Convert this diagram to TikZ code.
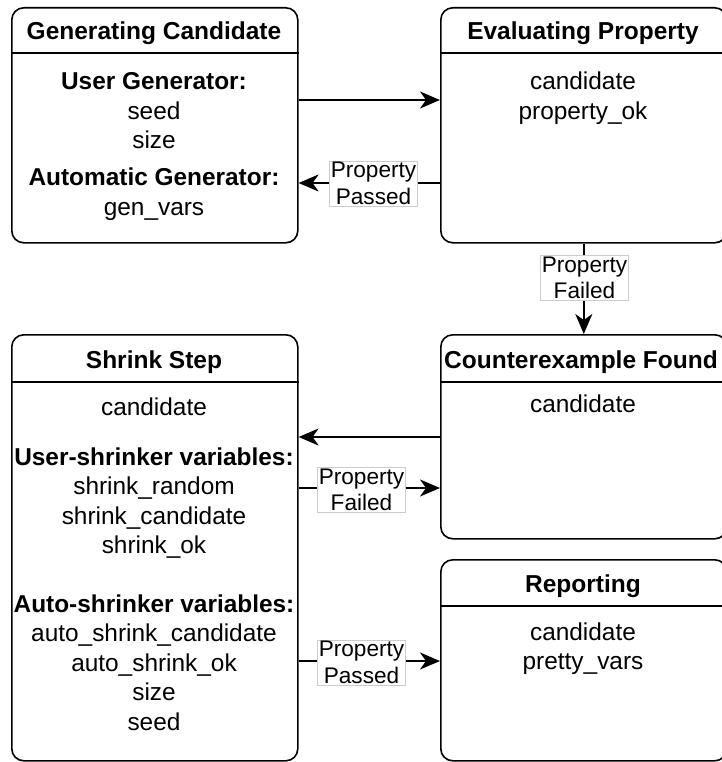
\documentclass[tikz,border=0pt]{standalone}
\usepackage{fontspec}
\setmainfont{Liberation Sans}
\usetikzlibrary{arrows.meta}
\begin{document}
\begin{tikzpicture}[x=1pt,y=-1pt,
  state/.style={draw,line width=1.6pt,rounded corners=12pt,minimum width=286pt,anchor=north west,inner sep=0pt},
  head/.style={anchor=base,font=\fontsize{24.5}{29.5}\selectfont\bfseries,inner sep=0pt},
  body/.style={anchor=base,font=\fontsize{24.4}{29.5}\selectfont,inner sep=0pt},
  sep/.style={line width=1.6pt},
  lbl/.style={draw=gray!40,line width=0.6pt,fill=white,align=center,font=\fontsize{22.6}{26.5}\selectfont,inner xsep=1.5pt,inner ysep=1.5pt},
  arr/.style={line width=1.8pt,-{Stealth[length=20pt 0 0,width=17pt 0 0,inset=6pt 0]}},
]
\useasboundingbox (0,0) rectangle (721,762);

% boxes
\node[state,minimum height=235pt] (gen) at (11,7) {};
\node[state,minimum height=235pt] (eval) at (440,7) {};
\node[state,minimum height=426pt] (shrink) at (11,334) {};
\node[state,minimum height=204pt] (cex) at (440,334) {};
\node[state,minimum height=201pt] (rep) at (440,559) {};

% header separators
\draw[sep] (gen.west |- 0,53) -- (gen.east |- 0,53);
\draw[sep] (eval.west |- 0,53) -- (eval.east |- 0,53);
\draw[sep] (shrink.west |- 0,382) -- (shrink.east |- 0,382);
\draw[sep] (cex.west |- 0,382) -- (cex.east |- 0,382);
\draw[sep] (rep.west |- 0,606) -- (rep.east |- 0,606);

% headers
\node[head] (genh) at (154,40) {Generating Candidate};
\node[head] (evalh) at (583,40) {Evaluating Property};
\node[head] (shrinkh) at (154,368) {Shrink Step};
\node[head] (cexh) at (581,368) {Counterexample Found};
\node[head] (reph) at (583,592) {Reporting};

% bodies
\node[body] (genb) at (154,90) {\begin{tabular}[t]{@{}c@{}}
\textbf{User Generator:}\\ seed\\ size\\[7.5pt]
\textbf{Automatic Generator:}\\ gen\_vars\end{tabular}};
\node[body] (evalb) at (583,90) {\begin{tabular}[t]{@{}c@{}}
candidate\\ property\_ok\end{tabular}};
\node[body] (shrinkb) at (154,415) {\begin{tabular}[t]{@{}c@{}}
candidate\\[20.5pt]
\textbf{User-shrinker variables:}\\ shrink\_random\\ shrink\_candidate\\ shrink\_ok\\[29pt]
\textbf{Auto-shrinker variables:}\\ auto\_shrink\_candidate\\ auto\_shrink\_ok\\ size\\ seed\end{tabular}};
\node[body] (cexb) at (583,412) {candidate};
\node[body] (repb) at (583,640) {\begin{tabular}[t]{@{}c@{}}
candidate\\ pretty\_vars\end{tabular}};

% connectors
\draw[arr] (gen.east |- 0,100) -- (eval.west |- 0,100);
\draw[arr] (eval.west |- 0,183) -- (gen.east |- 0,183);
\draw[arr] (eval.south) -- (cex.north);
\draw[arr] (cex.west |- 0,437) -- (shrink.east |- 0,437);
\draw[arr] (shrink.east |- 0,488) -- (cex.west |- 0,488);
\draw[arr] (shrink.east |- 0,661) -- (rep.west |- 0,661);

% labels
\node[lbl] (l1) at (373.5,183.5) {Property\\Passed};
\node[lbl] (l2) at (584.5,278) {Property\\Failed};
\node[lbl] (l3) at (361.5,490) {Property\\Failed};
\node[lbl] (l4) at (361.5,662.5) {Property\\Passed};
\end{tikzpicture}
\end{document}
